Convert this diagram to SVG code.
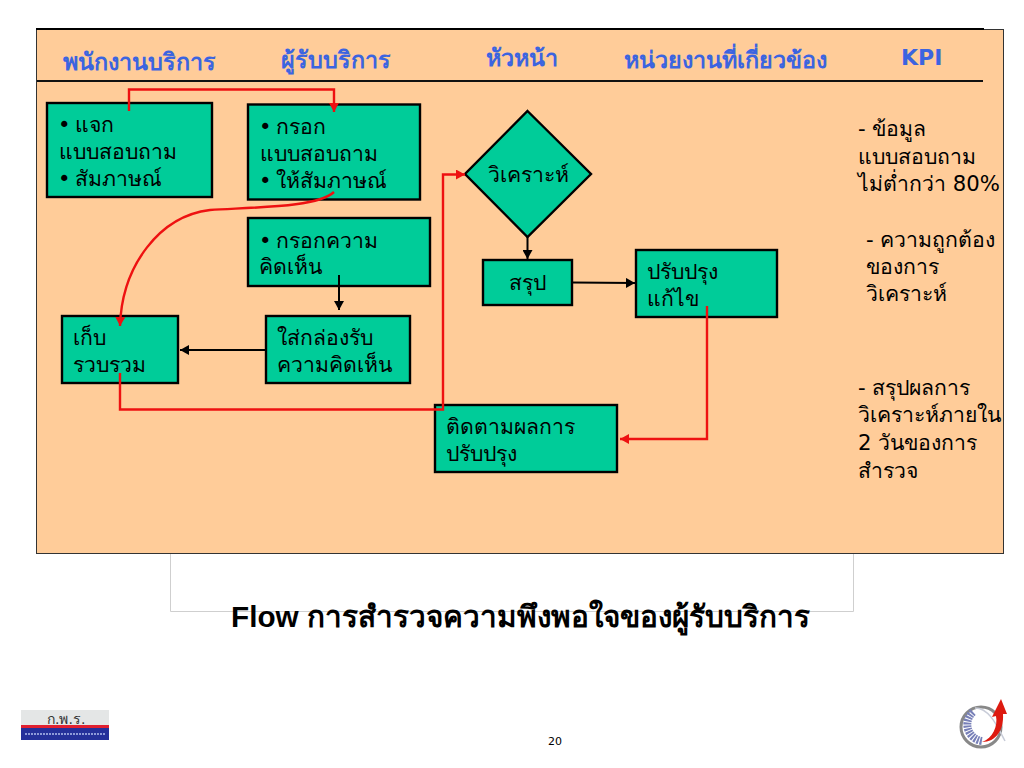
<svg xmlns="http://www.w3.org/2000/svg" width="1024" height="768" viewBox="0 0 1024 768">
<style>
text{font-family:"DejaVu Sans","Noto Sans",sans-serif;font-size:21.200px;fill:#000}
.h{font-weight:bold;fill:#3b64e0;font-size:23.300px}
.n{fill:#00cc99;stroke:#000;stroke-width:2.4}
.r{fill:none;stroke:#ee1111;stroke-width:2.400}
.k{fill:none;stroke:#000;stroke-width:2}
</style>
<defs>
<marker id="ar" markerUnits="userSpaceOnUse" markerWidth="10" markerHeight="10" refX="9" refY="5" orient="auto"><path d="M0 0L9 5L0 10Z" fill="#ee1111"/></marker>
<marker id="ak" markerUnits="userSpaceOnUse" markerWidth="10" markerHeight="10" refX="9" refY="5" orient="auto"><path d="M0 0L9 5L0 10Z" fill="#000"/></marker>
</defs>
<rect width="1024" height="768" fill="#fff"/>
<path d="M170.500 553V611.500H853.500V553" fill="none" stroke="#cfcfcf" stroke-width="1"/>
<g id="panel">
<rect x="36.500" y="29.500" width="967" height="524" fill="#ffcc99" stroke="#333" stroke-width="1"/>
<path d="M36 29H984" stroke="#000" stroke-width="2"/>
<path d="M37 81H983" stroke="#111" stroke-width="2"/>
</g>
<g id="headers">
<text class="h" x="63" y="70">พนักงานบริการ</text>
<text class="h" x="281" y="68">ผู้รับบริการ</text>
<text class="h" x="486" y="66">หัวหน้า</text>
<text class="h" x="624" y="68">หน่วยงานที่เกี่ยวข้อง</text>
<text class="h" x="901" y="65" style="font-size:22px">KPI</text>
</g>
<g id="n1"><rect class="n" x="47" y="103" width="165" height="94"/><text x="58" y="132">•<tspan x="75">แจก</tspan></text><text x="59" y="159">แบบสอบถาม</text><text x="58" y="186">•<tspan x="75">สัมภาษณ์</tspan></text></g>
<g id="n2"><rect class="n" x="248" y="104.500" width="172" height="95"/><text x="259" y="134">•<tspan x="276">กรอก</tspan></text><text x="260" y="161">แบบสอบถาม</text><text x="259" y="188">•<tspan x="276">ให้สัมภาษณ์</tspan></text></g>
<g id="n3"><rect class="n" x="248" y="218" width="182" height="68"/><text x="259" y="248">•<tspan x="276">กรอกความ</tspan></text><text x="259" y="274">คิดเห็น</text></g>
<g id="n4"><rect class="n" x="266" y="316" width="144" height="67"/><text x="277" y="345">ใส่กล่องรับ</text><text x="277" y="372">ความคิดเห็น</text></g>
<g id="n5"><rect class="n" x="62" y="316" width="116" height="67"/><text x="73" y="345">เก็บ</text><text x="73" y="372">รวบรวม</text></g>
<g id="n6"><polygon class="n" points="527.500,111 591,174 527.500,237 465,174"/><text x="488" y="182">วิเคราะห์</text></g>
<g id="n7"><rect class="n" x="483" y="260" width="89" height="45"/><text x="509" y="290">สรุป</text></g>
<g id="n8"><rect class="n" x="636" y="250" width="141" height="67"/><text x="647" y="279">ปรับปรุง</text><text x="647" y="306">แก้ไข</text></g>
<g id="n9"><rect class="n" x="435" y="405" width="182" height="67"/><text x="446" y="434">ติดตามผลการ</text><text x="446" y="461">ปรับปรุง</text></g>
<g id="connectors">
<path class="r" marker-end="url(#ar)" d="M129 111V89.500H334V112"/>
<path class="r" marker-end="url(#ar)" d="M334 192C318 207 260 207 210 210C160 216 122 265 120 326"/>
<path class="r" marker-end="url(#ar)" d="M120 373V409.500H443V174.500H465"/>
<path class="r" marker-end="url(#ar)" d="M707 306V439H620"/>
<path class="k" marker-end="url(#ak)" d="M339 275V310"/>
<path class="k" marker-end="url(#ak)" d="M266 350H180"/>
<path class="k" marker-end="url(#ak)" d="M527.500 237V259"/>
<path class="k" marker-end="url(#ak)" d="M572 282.500L635 283"/>
</g>
<g id="kpi">
<text x="858" y="136">- ข้อมูล</text><text x="858" y="164">แบบสอบถาม</text><text x="858" y="191">ไม่ต่ำกว่า 80%</text>
<text x="866" y="247">- ความถูกต้อง</text><text x="866" y="274">ของการ</text><text x="866" y="301">วิเคราะห์</text>
<text x="858" y="395">- สรุปผลการ</text><text x="858" y="422">วิเคราะห์ภายใน</text><text x="858" y="450">2 วันของการ</text><text x="858" y="478">สำรวจ</text>
</g>
<text id="title" x="231" y="627" style="font-family:'Liberation Sans','Noto Sans',sans-serif;font-weight:bold;font-size:29.700px">Flow การสำรวจความพึงพอใจของผู้รับบริการ</text>
<text id="page" x="548" y="745" style="font-size:11px">20</text>
<g id="logo1">
<rect x="21" y="710" width="88" height="16" fill="#e4e6e6"/>
<rect x="21" y="725" width="88" height="3" fill="#e02030"/>
<rect x="21" y="728" width="88" height="12" fill="#25309a"/>
<path d="M25 734H105" stroke="#8f9ad8" stroke-width="2" stroke-dasharray="2 1"/>
<text x="47" y="724" style="font-size:14px;fill:#333">ก.พ.ร.</text>
</g>
<g id="logo2">
<circle cx="981" cy="727" r="20" fill="none" stroke="#888" stroke-width="3"/>
<path d="M975 708C990 708 998 728 1005 741" fill="none" stroke="#c8ccd8" stroke-width="1.500"/>
<path d="M973 712C962 722 968 739 982 741" fill="none" stroke="#7880b8" stroke-width="8" stroke-dasharray="2 1"/>
<path d="M982 742C993 738 998 726 996 716L992 717L1001 699L1007 714L1003 714C1004 730 996 742 982 742Z" fill="#dd1a10"/>
</g>
</svg>
